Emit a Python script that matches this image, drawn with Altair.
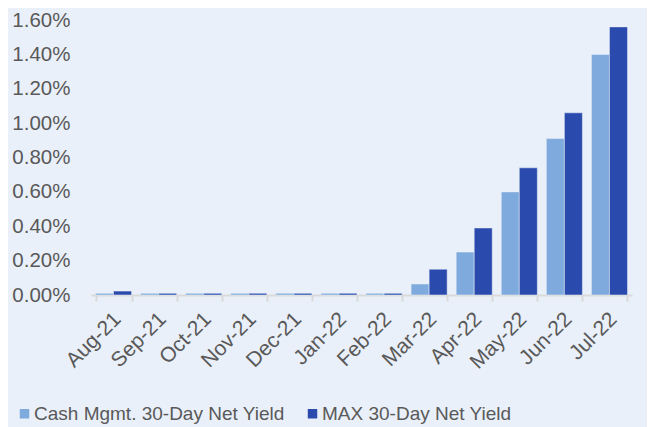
import altair as alt
import pandas as pd

months = ["Aug-21", "Sep-21", "Oct-21", "Nov-21", "Dec-21", "Jan-22",
          "Feb-22", "Mar-22", "Apr-22", "May-22", "Jun-22", "Jul-22"]
cash = [0.0001, 0.0001, 0.0001, 0.0001, 0.0001, 0.0001,
        0.0001, 0.00064, 0.0025, 0.0060, 0.0091, 0.0140]
maxy = [0.00023, 0.0001, 0.0001, 0.0001, 0.0001, 0.0001,
        0.0001, 0.0015, 0.0039, 0.0074, 0.0106, 0.0156]
series = ["Cash Mgmt. 30-Day Net Yield", "MAX 30-Day Net Yield"]
colors = ["#7FAADD", "#2A4BAD"]

rows = []
for m, c, v in zip(months, cash, maxy):
    rows.append({"month": m, "series": series[0], "value": c})
    rows.append({"month": m, "series": series[1], "value": v})
df = pd.DataFrame(rows)

font = "Liberation Sans"
grey = "#595959"

chart = alt.Chart(df).mark_bar(
    stroke="#EAF0F9", strokeWidth=0.5
).encode(
    x=alt.X("month:N", sort=months, title=None,
            scale=alt.Scale(paddingInner=0.2, paddingOuter=0.1),
            axis=alt.Axis(labelAngle=-45, labelAlign="right", labelBaseline="top",
                          labelFontSize=21, labelColor=grey, labelFont=font,
                          labelPadding=7, labelOffset=-4, tickBand="extent",
                          domainColor="#D9D9D9", domainWidth=2,
                          tickColor="#D9D9D9", tickWidth=2, tickSize=6,
                          grid=False)),
    xOffset=alt.XOffset("series:N", sort=series),
    y=alt.Y("value:Q", title=None,
            scale=alt.Scale(domain=[0, 0.016], nice=False),
            axis=alt.Axis(format=".2%", values=[0, 0.002, 0.004, 0.006, 0.008, 0.010, 0.012, 0.014, 0.016],
                          labelFontSize=20.5, labelColor=grey, labelFont=font,
                          labelPadding=21, domain=False, ticks=False, grid=False)),
    color=alt.Color("series:N", sort=series,
                    scale=alt.Scale(domain=series, range=colors),
                    legend=alt.Legend(title=None, orient="none", direction="horizontal",
                                      legendX=-76, legendY=384,
                                      symbolType="square", symbolSize=90,
                                      symbolStrokeWidth=0, symbolOffset=0,
                                      labelFontSize=19, labelColor=grey, labelFont=font,
                                      labelLimit=400, labelOffset=0,
                                      columnPadding=18)),
).properties(
    width=541, height=275,
    autosize=alt.AutoSizeParams(type="none"),
    padding={"left": 83, "top": 12, "right": 15, "bottom": 132},
    background="#EAF0F9",
).configure_view(stroke=None)

chart.save("out.html", embed_options={"renderer": "svg", "actions": False})
